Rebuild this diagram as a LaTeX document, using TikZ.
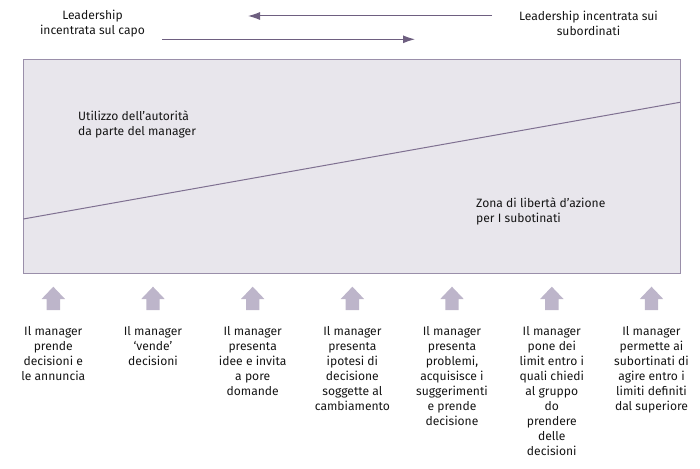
\documentclass[tikz,border=0pt]{standalone}
\usepackage{fontspec}
\setmainfont{Fira Sans}
\usetikzlibrary{arrows.meta}
\definecolor{boxfill}{HTML}{E8E6EC}
\definecolor{boxline}{HTML}{9A8FAA}
\definecolor{diagline}{HTML}{7F7091}
\definecolor{arrowcol}{HTML}{6E5F80}
\definecolor{blockcol}{HTML}{BDB5CA}
\definecolor{txt}{HTML}{151515}
\begin{document}
\begin{tikzpicture}[x=1pt,y=-1pt,
  lbl/.style={inner sep=0pt, align=center, font=\fontsize{12.1}{15}\selectfont, text=txt},
  lbll/.style={inner sep=0pt, align=left, font=\fontsize{12.1}{15}\selectfont, text=txt},
  toparrow/.style={draw=arrowcol, line width=1pt, -{Latex[length=12pt,width=8pt]}},
  blockarrow/.style={fill=blockcol, draw=none}]
\useasboundingbox (0,0) rectangle (700,468);
% top labels
\node[lbl] (capo) at (92.5,23.5) {Leadership\\incentrata sul capo};
\node[lbl] (sub) at (588.5,23.5) {Leadership incentrata sui\\subordinati};
\coordinate (a1s) at (492,16);
\coordinate (a1e) at (248,16);
\coordinate (a2s) at (162,39.3);
\coordinate (a2e) at (415,39.3);
\draw[toparrow] (a1s) -- (a1e);
\draw[toparrow] (a2s) -- (a2e);
% main box
\node[draw=boxline, fill=boxfill, line width=1pt, minimum width=657pt, minimum height=213.5pt, inner sep=0pt, anchor=north west] (box) at (23.3,59.3) {};
\coordinate (dl) at (23.3,219);
\coordinate (dr) at (680,102.3);
\draw[diagline, line width=1pt] (dl) -- (dr);
\node[lbll, anchor=north west] (auth) at (78,110.3) {Utilizzo dell’autorità\\da parte del manager};
\node[lbll, anchor=north west] (zona) at (476,197.8) {Zona di libertà d’azione\\per I subotinati};
% block arrows and texts
\foreach \i/\x/\t in {
  1/53.3/{Il manager\\prende\\decisioni e\\le annuncia},
  2/153/{Il manager\\‘vende’\\decisioni},
  3/252.7/{Il manager\\presenta\\idee e invita\\a pore\\domande},
  4/352.4/{Il manager\\presenta\\ipotesi di\\decisione\\soggette al\\cambiamento},
  5/452/{Il manager\\presenta\\problemi,\\acquisisce i\\suggerimenti\\e prende\\decisione},
  6/551.8/{Il manager\\pone dei\\limit entro i\\quali chiedi\\al gruppo\\do\\prendere\\delle\\decisioni},
  7/651.5/{Il manager\\permette ai\\subortinati di\\agire entro i\\limiti definiti\\dal superiore}} {
  \fill[blockarrow] (\x,286.7) -- (\x+11.7,299) -- (\x+6.7,299) -- (\x+6.7,310)
     -- (\x-6.7,310) -- (\x-6.7,299) -- (\x-11.7,299) -- cycle;
  \node[lbl, anchor=north] (t\i) at (\x,326.3) {\t};
}
\end{tikzpicture}
\end{document}
